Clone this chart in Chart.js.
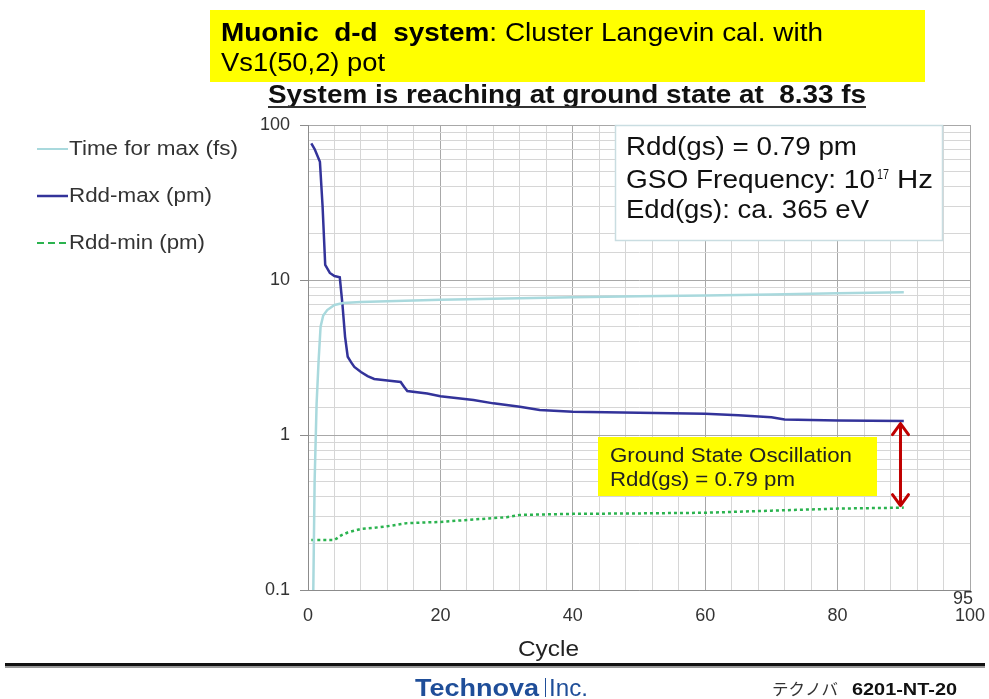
<!DOCTYPE html>
<html lang="en">
<head>
<meta charset="UTF-8">
<title>Muonic d-d system</title>
<script src="https://cdn.jsdelivr.net/npm/chart.js"></script>
<style>
  body { margin: 0; background: #fff; }
  #chart { position: absolute; left: 0; top: 0; }
</style>
</head>
<body>
<canvas id="chart" width="989" height="699"></canvas>
<script>
// values (x = cycle, y = value on log axis)
const timeCycle = [0.8, 1.0, 1.3, 1.6, 1.9, 2.3, 2.9, 4, 5.3, 8, 12, 20, 30, 40, 50, 60, 70, 80, 90];
const timeMax   = [0.1, 0.5, 1.6, 3.0, 5.0, 5.9, 6.4, 6.9, 7.1, 7.2, 7.3, 7.45, 7.6, 7.75, 7.85, 7.95, 8.05, 8.2, 8.33];

const maxCycle = [0.5, 1, 1.8, 2.2, 2.6, 3.3, 4, 4.8, 5.2, 5.6, 6, 6.5, 7, 8, 9, 10, 12, 14, 14.5, 15, 18, 20, 25, 28, 32, 35, 40, 50, 60, 65, 70, 72, 80, 90];
const rddMax   = [76, 70, 58, 30, 12.5, 11.1, 10.6, 10.4, 7, 4.3, 3.2, 2.95, 2.75, 2.55, 2.4, 2.3, 2.25, 2.2, 2.05, 1.92, 1.85, 1.78, 1.68, 1.6, 1.52, 1.45, 1.41, 1.39, 1.37, 1.34, 1.3, 1.26, 1.24, 1.23];

const minCycle = [0.5, 2, 4, 5, 6, 8, 10, 12, 15, 20, 25, 30, 32, 40, 50, 60, 70, 80, 90];
const rddMin   = [0.21, 0.21, 0.21, 0.225, 0.235, 0.248, 0.252, 0.258, 0.27, 0.275, 0.285, 0.295, 0.305, 0.31, 0.312, 0.315, 0.325, 0.335, 0.34];

const seriesNames = ['Time for max (fs)', 'Rdd-max (pm)', 'Rdd-min (pm)'];
const xTickLabels = [0, 20, 40, 60, 80, 100];
const yTickLabels = [0.1, 1, 10, 100];

// arrow marks Rdd-max -> Rdd-min at the last cycle
const arrowCycle = 89.5;
const arrowTop = 1.22;
const arrowBottom = 0.34;

const FONT = '"Liberation Sans", Arial, sans-serif';

function pts(xs, ys) {
    return xs.map((x, i) => ({ x: x, y: ys[i] }));
}

function isDecade(v) {
    const l = Math.log10(v);
    return Math.abs(l - Math.round(l)) < 1e-6;
}

// draw text, squeezed/stretched to a width
function text(ctx, s, x, y, font, color, w) {
    ctx.save();
    ctx.font = font;
    ctx.fillStyle = color;
    ctx.textAlign = 'left';
    ctx.textBaseline = 'alphabetic';
    ctx.translate(x, y);
    if (w) ctx.scale(w / ctx.measureText(s).width, 1);
    ctx.fillText(s, 0, 0);
    ctx.restore();
}

const extras = {
    id: 'extras',
    afterDraw(chart) {
        const ctx = chart.ctx;
        const xs = chart.scales.x, ys = chart.scales.y;

        // title box
        ctx.fillStyle = '#ffff00';
        ctx.fillRect(210, 10, 715, 72);
        ctx.save();
        ctx.font = 'bold 26px ' + FONT;
        const b = 'Muonic  d-d  system';
        const wb = ctx.measureText(b).width;
        ctx.font = '26px ' + FONT;
        const r = ': Cluster Langevin cal. with';
        const wr = ctx.measureText(r).width;
        const k = 602 / (wb + wr);
        ctx.translate(221, 41);
        ctx.scale(k, 1);
        ctx.fillStyle = '#000';
        ctx.font = 'bold 26px ' + FONT;
        ctx.fillText(b, 0, 0);
        ctx.font = '26px ' + FONT;
        ctx.fillText(r, wb, 0);
        ctx.restore();
        text(ctx, 'Vs1(50,2) pot', 221, 71, '26px ' + FONT, '#000', 164);

        // subtitle
        text(ctx, 'System is reaching at ground state at  8.33 fs', 268, 103, 'bold 25px ' + FONT, '#111', 598);
        ctx.fillStyle = '#333';
        ctx.fillRect(268, 106, 598, 2);

        // legend
        const lc = ['#a9d9dd', '#33339a', '#2bb34f'];
        const ly = [149, 196, 243];
        const lw = [169, 143, 136];
        for (let i = 0; i < 3; i++) {
            ctx.save();
            ctx.strokeStyle = lc[i];
            ctx.lineWidth = i === 1 ? 2.5 : 2;
            if (i === 2) ctx.setLineDash([7, 4]);
            ctx.beginPath();
            ctx.moveTo(37, ly[i]);
            ctx.lineTo(68, ly[i]);
            ctx.stroke();
            ctx.restore();
            text(ctx, seriesNames[i], 69, ly[i] + 6, '20px ' + FONT, '#333', lw[i]);
        }

        // info box
        ctx.fillStyle = '#fff';
        ctx.fillRect(615, 125, 328, 116);
        ctx.strokeStyle = '#c9dde1';
        ctx.lineWidth = 1.5;
        ctx.strokeRect(615.5, 125.5, 327, 115);
        text(ctx, 'Rdd(gs) = 0.79 pm', 626, 155, '25px ' + FONT, '#111', 231);
        text(ctx, 'GSO Frequency: 10', 626, 188, '25px ' + FONT, '#111', 249);
        text(ctx, '17', 877, 179, '15px ' + FONT, '#111', 12);
        text(ctx, 'Hz', 897, 188, '25px ' + FONT, '#111', 36);
        text(ctx, 'Edd(gs): ca. 365 eV', 626, 218, '25px ' + FONT, '#111', 243);

        // ground state box
        ctx.fillStyle = '#ffff00';
        ctx.fillRect(598, 437, 279, 59);
        text(ctx, 'Ground State Oscillation', 610, 462, '20px ' + FONT, '#222', 242);
        text(ctx, 'Rdd(gs) = 0.79 pm', 610, 486, '20px ' + FONT, '#222', 185);

        // red double arrow
        const ax = xs.getPixelForValue(arrowCycle);
        const a1 = ys.getPixelForValue(arrowTop);
        const a2 = ys.getPixelForValue(arrowBottom);
        ctx.save();
        ctx.strokeStyle = '#c00000';
        ctx.lineWidth = 3;
        ctx.lineCap = 'round';
        ctx.lineJoin = 'round';
        ctx.beginPath();
        ctx.moveTo(ax, a1 + 2);
        ctx.lineTo(ax, a2 - 2);
        ctx.moveTo(ax - 8, a1 + 13);
        ctx.lineTo(ax, a1 + 2);
        ctx.lineTo(ax + 8, a1 + 13);
        ctx.moveTo(ax - 8, a2 - 13);
        ctx.lineTo(ax, a2 - 2);
        ctx.lineTo(ax + 8, a2 - 13);
        ctx.stroke();
        ctx.restore();

        // stray "95" over the last x label
        ctx.save();
        ctx.font = '18px ' + FONT;
        ctx.fillStyle = '#333';
        ctx.textAlign = 'center';
        ctx.fillText('95', 963, 604);
        ctx.restore();

        // axis title
        text(ctx, 'Cycle', 518, 656, '22px ' + FONT, '#222', 61);

        // footer rule
        ctx.fillStyle = '#111';
        ctx.fillRect(5, 663, 980, 3);
        ctx.fillStyle = '#999';
        ctx.fillRect(5, 666, 980, 2);

        // footer texts
        text(ctx, 'Technova', 415, 696, 'bold 23px ' + FONT, '#1f4e99', 124);
        ctx.fillStyle = '#1f4e99';
        ctx.fillRect(545, 678, 1, 19);
        text(ctx, 'Inc.', 549, 696, '23px ' + FONT, '#1f4e99', 39);
        text(ctx, 'テクノバ', 772, 695, '16px "Noto Sans CJK JP", sans-serif', '#333', 66);
        text(ctx, '6201-NT-20', 852, 695, 'bold 16px ' + FONT, '#111', 105);
    }
};

new Chart(document.getElementById('chart'), {
    type: 'line',
    data: {
        datasets: [
            {
                label: seriesNames[0],
                data: pts(timeCycle, timeMax),
                borderColor: '#a9d9dd',
                borderWidth: 2.5
            },
            {
                label: seriesNames[1],
                data: pts(maxCycle, rddMax),
                borderColor: '#33339a',
                borderWidth: 2.5
            },
            {
                label: seriesNames[2],
                data: pts(minCycle, rddMin),
                borderColor: '#2bb34f',
                borderWidth: 2.5,
                borderDash: [3, 3]
            }
        ]
    },
    options: {
        responsive: false,
        animation: false,
        devicePixelRatio: 1,
        elements: { point: { radius: 0 }, line: { tension: 0 } },
        layout: { padding: { left: 248, right: 19, top: 125, bottom: 69 } },
        plugins: { legend: { display: false }, tooltip: { enabled: false } },
        scales: {
            x: {
                type: 'linear',
                min: 0,
                max: 100,
                afterFit: s => { s.height = 40; s.paddingLeft = 0; s.paddingRight = 0; },
                border: { color: '#8c8c8c', width: 1 },
                grid: {
                    drawTicks: false,
                    color: c => (c.tick && c.tick.value % 20 === 0) ? '#a8a8a8' : '#d6d6d6'
                },
                ticks: {
                    stepSize: 4,
                    autoSkip: false,
                    maxRotation: 0,
                    padding: 15,
                    color: '#333',
                    font: { family: FONT, size: 18 },
                    callback: v => xTickLabels.includes(v) ? String(v) : ''
                }
            },
            y: {
                type: 'logarithmic',
                min: 0.1,
                max: 100,
                afterFit: s => { s.width = 60; s.paddingTop = 0; s.paddingBottom = 0; },
                border: { color: '#8c8c8c', width: 1 },
                grid: {
                    tickLength: 8,
                    color: c => (c.tick && isDecade(c.tick.value)) ? '#a8a8a8' : '#d6d6d6',
                    tickColor: c => (c.tick && isDecade(c.tick.value)) ? '#8c8c8c' : 'rgba(0,0,0,0)'
                },
                ticks: {
                    autoSkip: false,
                    padding: 10,
                    color: '#333',
                    font: { family: FONT, size: 18 },
                    callback: v => {
                        const hit = yTickLabels.find(t => Math.abs(t - v) < 1e-9);
                        return hit !== undefined ? String(hit) : '';
                    }
                }
            }
        }
    },
    plugins: [extras]
});
</script>
</body>
</html>
